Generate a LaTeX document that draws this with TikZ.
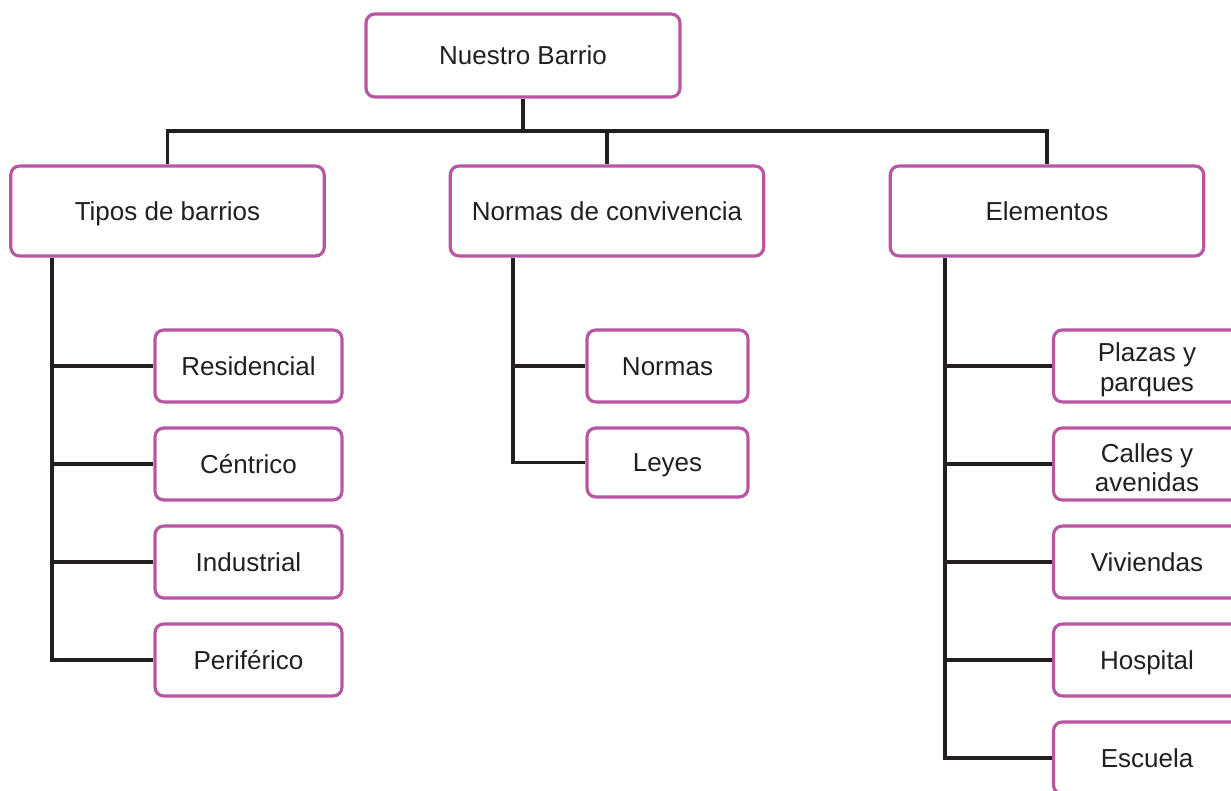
\documentclass[tikz,border=0pt]{standalone}
\usepackage{fontspec}
\setmainfont{Liberation Sans}
\usetikzlibrary{calc}
\definecolor{boxpink}{RGB}{184,86,164}
\definecolor{ink}{RGB}{35,31,32}

\begin{document}
\begin{tikzpicture}[x=0.02cm,y=-0.02cm,
	box/.style={draw=boxpink,line width=1.8pt,rounded corners=5pt,fill=white,text=ink,
		align=center,font=\fontsize{14.8pt}{15.8pt}\selectfont,inner sep=0pt},
	one/.style={text height=10.6pt,text depth=0pt},
	bigbox/.style={box,one,minimum width=6.27cm,minimum height=1.8cm},
	subbox/.style={box,minimum width=3.74cm,minimum height=1.44cm},
	link/.style={draw=ink,line width=1.8pt}]

	\clip (0,0) rectangle (1231,791);
	\useasboundingbox (0,0) rectangle (1231,791);

	\node[box,one,minimum width=6.28cm,minimum height=1.66cm] (top) at (523,55.5) {Nuestro Barrio};

	\node[bigbox] (tipos) at (167.5,211) {Tipos de barrios};
	\node[bigbox] (conv)  at (607,211)   {Normas de convivencia};
	\node[bigbox] (elem)  at (1047,211)  {Elementos};

	\node[subbox,one] (resid) at (248.5,366) {Residencial};
	\node[subbox,one] (centr) at (248.5,464) {Céntrico};
	\node[subbox,one] (indus) at (248.5,562) {Industrial};
	\node[subbox,one] (perif) at (248.5,660) {Periférico};

	\node[box,one,minimum width=3.22cm,minimum height=1.44cm] (normas) at (667.5,366) {Normas};
	\node[box,one,minimum width=3.22cm,minimum height=1.38cm] (leyes)  at (667.5,462.5) {Leyes};

	\node[subbox] (plazas)  at (1147,366) {\rule{0pt}{15pt}Plazas y\\[1pt]parques};
	\node[subbox] (calles)  at (1147,464) {\rule{0pt}{15pt}Calles y\\[1pt]avenidas};
	\node[subbox,one] (vivien)  at (1147,562) {Viviendas};
	\node[subbox,one] (hospit)  at (1147,660) {Hospital};
	\node[subbox,one] (escuela) at (1147,758) {Escuela};

	% top level
	\coordinate (bus) at (0,131);
	\path[link] (tipos.north) -- (tipos.north |- bus) -- (elem.north |- bus) -- (elem.north);
	\path[link] (top.south) -- (top.south |- bus);
	\path[link] (conv.north) -- (conv.north |- bus);

	% tipos de barrios
	\coordinate (ltrunk) at (52,0);
	\path[link] (tipos.south -| ltrunk) |- (perif.west);
	\foreach \n in {resid,centr,indus}
		\path[link] (ltrunk |- \n.west) -- (\n.west);

	% normas de convivencia
	\coordinate (mtrunk) at (513,0);
	\path[link] (conv.south -| mtrunk) |- (leyes.west);
	\path[link] (mtrunk |- normas.west) -- (normas.west);

	% elementos
	\coordinate (rtrunk) at (945,0);
	\path[link] (elem.south -| rtrunk) |- (escuela.west);
	\foreach \n in {plazas,calles,vivien,hospit}
		\path[link] (rtrunk |- \n.west) -- (\n.west);

\end{tikzpicture}
\end{document}
